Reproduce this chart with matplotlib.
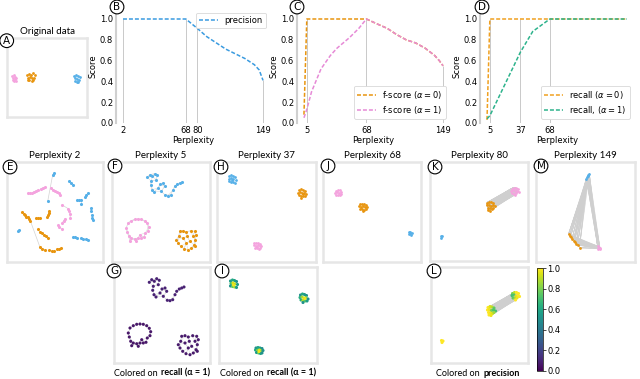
import numpy as np
import matplotlib.pyplot as plt
from matplotlib.collections import LineCollection
from matplotlib.offsetbox import TextArea, HPacker, AnnotationBbox
import matplotlib as mpl

plt.rcParams['font.family'] = ['DejaVu Sans']

# ---------------- score curves (top row) ----------------
prec_x = [2, 5, 10, 20, 37, 50, 68, 80, 90, 100, 110, 120, 130, 140, 145, 149]
prec_y = [1.0, 1.0, 1.0, 1.0, 1.0, 1.0, 1.0, 0.91, 0.83, 0.77, 0.71, 0.665, 0.62, 0.56, 0.51, 0.41]
f0_x = [2, 5, 20, 37, 50, 68, 80, 90, 100, 110, 120, 130, 140, 145, 149]
f0_y = [0.08, 1.0, 1.0, 1.0, 1.0, 1.0, 0.95, 0.91, 0.85, 0.80, 0.77, 0.72, 0.65, 0.60, 0.55]
f1_x = [2, 5, 10, 20, 30, 37, 50, 60, 68, 80, 90, 100, 110, 120, 130, 140, 145, 149]
f1_y = [0.05, 0.13, 0.30, 0.52, 0.65, 0.72, 0.82, 0.91, 1.0, 0.95, 0.91, 0.85, 0.80, 0.77, 0.72, 0.65, 0.60, 0.55]
r0_x = [2, 5, 37, 68, 80, 149]
r0_y = [0.03, 1.0, 1.0, 1.0, 1.0, 1.0]
r1_x = [2, 5, 37, 50, 68, 80, 149]
r1_y = [0.04, 0.07, 0.68, 0.88, 1.0, 1.0, 1.0]
b_ticks = [2, 68, 80, 149]
c_ticks = [5, 68, 149]
d_ticks = [5, 37, 68]

# ---------------- embeddings (local pixel coords inside each box) ----------------
orig_pink = [(5, 38), (6.5, 37), (8, 38.5), (6, 40), (7.5, 41), (9, 40), (5.5, 42), (7, 43), (8.5, 42.5)]
orig_orange = [(20, 37), (22, 35.5), (24, 36.5), (26, 35), (27.5, 37), (21, 39.5), (23, 38.5), (25, 40),
               (27, 39.5), (22, 42), (24.5, 43), (26, 42), (20.5, 41.5)]
orig_blue = [(67, 37.5), (69, 36.5), (71, 37.5), (72.5, 39), (68, 40), (70, 40.5), (72, 41.5), (67.5, 42.5),
             (69.5, 43.5), (71, 43.5)]

p2_blue = [(45.7, 12.7), (47.3, 11.3), (62.3, 19.3), (64, 21.3), (66, 23.3), (40.7, 39.3), (78, 35.3),
           (79.3, 33.3), (81, 31), (70.3, 38), (72.3, 38.3), (74.3, 38.3), (74.3, 41.7), (83.7, 46),
           (84.3, 49.3), (84.7, 52.7), (85.3, 56), (85.7, 58), (11.3, 69.3), (12, 68), (65.7, 75.3),
           (68, 75.3), (70, 75.7), (74, 76), (76.3, 76.7), (78.7, 77.3), (80.7, 78)]
p2_pink = [(20.7, 31.3), (23, 31.3), (25.3, 30.7), (27.3, 29.7), (29.3, 28.7), (31.3, 27.7), (33.7, 26.7),
           (35.7, 26), (38, 25.3), (43.7, 26), (45.7, 27.7), (48, 28.7), (49.7, 29.7), (52.3, 31),
           (53.3, 33.3), (54.7, 42.7), (61.3, 46.7), (62, 49.3), (63, 52), (63.3, 56), (58, 56.7),
           (56.7, 58.7), (55.3, 60.7), (50.7, 63.3), (52.3, 65), (54.7, 66.7)]
p2_orange = [(15.3, 50), (16.7, 52), (18, 53.3), (19.3, 54.7), (21, 55.3), (22.3, 56.7), (23.3, 58.7),
             (29, 56.3), (31.3, 56.3), (33.3, 56.3), (42.3, 49.3), (41.7, 51.3), (41, 53.3), (40.3, 55.3),
             (30.7, 67.3), (32.7, 69.7), (34.7, 71.3), (37, 72.7), (39.3, 74), (41.3, 75.7),
             (33, 85.3), (35.3, 86.7), (38, 87.7), (42.3, 88.3), (44.7, 88.7), (47, 88.7), (49.7, 87.3),
             (52, 86.7), (54, 86)]
p2_links = [(6, 20)]

p5_blue = [(35.3, 15.3), (37.7, 12.7), (40.3, 14.3), (42.7, 11.7), (45.3, 13.3), (39.3, 19.3), (38.7, 23.3),
           (40, 27.7), (42, 30), (46, 26), (48, 22), (51, 21), (52.7, 24.3), (49.3, 29.3), (53.3, 33.3),
           (56, 33.7), (58.7, 32.7), (61, 27.7), (62.7, 24.3), (65.3, 22), (67.7, 21), (70, 20), (44.3, 17.7)]
p5_pink = [(16, 61), (19.3, 58.7), (22.7, 57.3), (26, 57), (29.3, 57.3), (32.7, 58.7), (35.3, 61.3),
           (36.7, 64.7), (36, 68.7), (33.3, 71), (14.3, 66), (15.3, 70), (16.7, 74.3), (19.3, 76),
           (22.7, 76.7), (26, 76), (29.3, 76), (32, 75.3), (17.7, 78.7), (24.3, 79.3), (27.7, 72.7)]
p5_orange = [(67.7, 69.3), (71, 68.7), (74.3, 70), (78.7, 68.7), (82.7, 69.3), (84.3, 72.7), (83.3, 77.7),
             (82, 82.7), (79.3, 86), (76, 87.7), (72, 86.7), (68.7, 84.3), (66, 81), (64.3, 77.7),
             (66.7, 74.3), (71, 76), (75.3, 74.3), (77.7, 79.3), (74.3, 81), (81, 74.3), (83.3, 84.3)]
p5_recall = [0.09, 0.06, 0.07]  # blue, pink, orange

p37_blue = [(11.5, 14), (13.5, 13), (15.5, 13.5), (17.5, 14.5), (12, 16.5), (14, 16), (16, 17), (18.5, 17.5),
            (11.5, 19), (13.5, 19.5), (15.5, 20), (17.5, 20.5), (14.5, 18)]
p37_orange = [(81.5, 28), (83.5, 27), (85.5, 27.5), (87.5, 28.5), (81, 30.5), (83, 30), (85, 31), (87, 30.5),
              (89, 32), (82, 33), (84, 33.5), (86, 34), (88, 34), (84, 35.5), (86, 31.5)]
p37_pink = [(37, 81), (39, 80.5), (41, 81), (43, 81.5), (36.5, 83), (38.5, 83.5), (40.5, 83), (42.5, 84),
            (44, 83.5), (37.5, 85.5), (39.5, 86), (41.5, 86.5), (43, 86), (40, 84.5)]
p37_recall_blue = [0.55, 0.6, 0.58, 0.5, 0.7, 0.95, 0.9, 0.55, 0.5, 0.75, 0.85, 0.55, 0.98]
p37_recall_orange = [0.5, 0.6, 0.55, 0.5, 0.62, 0.85, 0.95, 0.8, 0.5, 0.6, 0.9, 0.75, 0.55, 0.5, 0.98]
p37_recall_pink = [0.5, 0.6, 0.55, 0.5, 0.6, 0.8, 0.95, 0.85, 0.5, 0.55, 0.75, 0.6, 0.5, 0.98]

p68_pink = [(12.5, 28.5), (14.5, 27.5), (16.5, 28), (18, 29.5), (12, 30.5), (14, 30), (16, 30.5), (17.5, 31.5),
            (13, 32.5), (15, 32.5), (16.5, 33)]
p68_orange = [(36.5, 42), (38.5, 41.5), (40.5, 41.5), (42.5, 42.5), (36, 44), (38, 44.5), (40, 44), (42, 45),
              (44, 44.5), (37, 46.5), (39, 47), (41, 47.5), (43, 47), (40, 49)]
p68_blue = [(86, 70), (87.5, 69.5), (89, 70.5), (86.5, 72), (88, 72.5), (87.5, 71)]

p80_orange = [(57, 40.5), (59, 39.5), (61, 40), (63, 41), (56.5, 43), (58.5, 42.5), (60.5, 43.5), (62.5, 43),
              (64.5, 44), (57.5, 45.5), (59.5, 46), (61.5, 46.5), (63, 45.5), (58, 48), (60, 48.5)]
p80_pink = [(81.5, 26.5), (83.5, 25.5), (85.5, 25.5), (87.5, 26.5), (81, 28.5), (83, 28), (85, 29), (87, 28.5),
            (88.5, 29.5), (82, 31), (84, 31.5), (86, 31), (84.5, 33)]
p80_blue = [(10.5, 73.5), (12, 74), (11, 75.5)]
p80_prec_orange = [1.0, 0.95, 0.9, 0.75, 1.0, 0.97, 0.8, 0.72, 0.7, 1.0, 0.98, 0.95, 0.85, 1.0, 0.97]
p80_prec_pink = [0.8, 0.9, 1.0, 1.0, 0.7, 0.72, 0.95, 1.0, 1.0, 0.75, 0.85, 0.97, 1.0]
p80_prec_blue = [1.0, 1.0, 1.0]

p149_blue = [(50.3, 16.7), (51.3, 15), (52.3, 13.3), (53.3, 11.7), (51.8, 14.2)]
p149_orange = [(32.5, 72), (33.5, 73.5), (34.5, 75), (36, 77), (37.5, 78.5), (38.5, 80), (40, 81.5),
               (41.5, 83), (43.5, 85.5)]
p149_pink = [(61.5, 84), (62.5, 85.5), (63.5, 87), (62, 86.5), (64, 86)]

BLUE = "#56b0e8"
ORANGE = "#e8950f"
PINK = "#f4a3de"
PINK_LINE = "#e68ad6"
GREEN = "#2db38c"
EDGE = "#d3d3d3"

W, H = 640, 379
fig = plt.figure(figsize=(6.4, 3.79), dpi=100)


def rect(x, y, w, h):
    return [x / W, 1 - (y + h) / H, w / W, h / H]


def tag(x, y, s):
    fig.text(x / W, 1 - y / H, s, ha="center", va="center", fontsize=7.5,
             bbox=dict(boxstyle="circle,pad=0.18", fc="white", ec="black", lw=0.8))


def score_axes(r, series, ticks, loc):
    ax = fig.add_axes(rect(*r))
    for xs, ys, color, label in series:
        ax.plot(xs, ys, ls="--", dashes=(2.6, 1.3), lw=1.1, color=color, label=label)
    for t in ticks:
        top = max(np.interp(t, xs, ys) for xs, ys, _, _ in series)
        ax.vlines(t, 0, top, color="#c9c9c9", lw=0.7, zorder=0)
    ax.set_xlim(-5.35, 156.35)
    ax.set_ylim(0, 1.1)
    ax.set_xticks(ticks)
    ax.set_yticks([0, 0.2, 0.4, 0.6, 0.8, 1.0])
    ax.tick_params(length=0, labelsize=6, pad=2)
    for side in ["top", "right", "bottom"]:
        ax.spines[side].set_visible(False)
    ax.spines["left"].set_color("#d0d0d0")
    ax.spines["left"].set_linewidth(1.5)
    ax.set_xlabel("Perplexity", fontsize=6, labelpad=1)
    ax.set_ylabel("Score", fontsize=6, labelpad=2)
    leg = ax.legend(loc=loc, fontsize=6, handlelength=2.2, borderpad=0.4, labelspacing=0.3,
                    fancybox=True, framealpha=1)
    leg.get_frame().set_edgecolor("#d8d8d8")
    leg.get_frame().set_linewidth(0.6)
    return ax


def box_axes(r, title=None):
    ax = fig.add_axes(rect(*r))
    ax.set_xlim(0, r[2])
    ax.set_ylim(r[3], 0)
    ax.set_xticks([])
    ax.set_yticks([])
    for s in ax.spines.values():
        s.set_color("#e6e6e6")
        s.set_linewidth(1.8)
    if title:
        ax.set_title(title, fontsize=7, pad=3, family=["Lato", "DejaVu Sans"])
    return ax


def knn_segments(pts, k=2):
    p = np.asarray(pts)
    d = np.hypot(p[:, None, 0] - p[None, :, 0], p[:, None, 1] - p[None, :, 1])
    segs = []
    for i in range(len(p)):
        for j in np.argsort(d[i])[1:k + 1]:
            segs.append([p[i], p[j]])
    return segs


def band(a, b):
    return [[p, q] for p in a for q in b]


def dots(ax, pts, color, s=5, cmap=None):
    p = np.asarray(pts)
    ax.scatter(p[:, 0], p[:, 1], s=s, c=color, cmap=cmap, vmin=0, vmax=1, lw=0, zorder=3)


# ---------------- top row ----------------
ax = box_axes((7, 38, 80, 79), "Original data")
dots(ax, orig_pink, PINK, 4)
dots(ax, orig_orange, ORANGE, 4)
dots(ax, orig_blue, BLUE, 4)

score_axes((116, 8.6, 154, 114.4), [(prec_x, prec_y, "#3a9be0", "precision")], b_ticks, "upper right")
score_axes((297, 8.6, 153, 114.4),
           [(f0_x, f0_y, ORANGE, r"f-score ($\alpha = 0$)"), (f1_x, f1_y, PINK_LINE, r"f-score ($\alpha = 1$)")],
           c_ticks, "lower right")
score_axes((480, 8.6, 154, 114.4),
           [(r0_x, r0_y, "#f0a020", r"recall ($\alpha = 0$)"), (r1_x, r1_y, GREEN, r"recall, ($\alpha = 1$)")],
           d_ticks, "lower right")

# ---------------- embeddings ----------------
ax = box_axes((7, 162, 96, 100), "Perplexity 2")
segs = []
for c in (p2_blue, p2_pink, p2_orange):
    segs += knn_segments(c, 1)
segs += [[p2_orange[i], p2_orange[j]] for i, j in p2_links]
ax.add_collection(LineCollection(segs, colors=EDGE, lw=0.5, zorder=1))
dots(ax, p2_blue, BLUE)
dots(ax, p2_pink, PINK)
dots(ax, p2_orange, ORANGE)

for r, title, colored in [((112, 162, 98, 100), "Perplexity 5", False), ((114, 267, 96, 96), None, True)]:
    ax = box_axes(r, title)
    segs = []
    for c in (p5_blue, p5_pink, p5_orange):
        segs += knn_segments(c, 3)
    ax.add_collection(LineCollection(segs, colors="#dcdcdc", lw=0.4, zorder=1))
    clusters = [p5_blue, p5_pink, p5_orange]
    for c, col, rv in zip(clusters, [BLUE, PINK, ORANGE], p5_recall):
        if colored:
            dots(ax, c, [rv] * len(c), 5, "viridis")
        else:
            dots(ax, c, col, 5)

ax = box_axes((217, 162, 99, 100), "Perplexity 37")
dots(ax, p37_blue, BLUE, 4)
dots(ax, p37_orange, ORANGE, 4)
dots(ax, p37_pink, PINK, 4)
ax = box_axes((219, 267, 98, 96))
dots(ax, p37_blue, p37_recall_blue, 5, "viridis")
dots(ax, p37_orange, p37_recall_orange, 5, "viridis")
dots(ax, p37_pink, p37_recall_pink, 5, "viridis")

ax = box_axes((323, 162, 98, 100), "Perplexity 68")
dots(ax, p68_pink, PINK, 4)
dots(ax, p68_orange, ORANGE, 4)
dots(ax, p68_blue, BLUE, 4)

ax = box_axes((430, 162, 98, 99), "Perplexity 80")
ax.add_collection(LineCollection(band(p80_orange, p80_pink), colors="#cfcfcf", lw=0.5, zorder=1))
dots(ax, p80_orange, ORANGE, 4)
dots(ax, p80_pink, PINK, 4)
dots(ax, p80_blue, BLUE, 4)
ax = box_axes((431, 267, 97, 96))
ax.add_collection(LineCollection(band(p80_orange, p80_pink), colors="#cfcfcf", lw=0.5, zorder=1))
dots(ax, p80_orange, p80_prec_orange, 5, "viridis")
dots(ax, p80_pink, p80_prec_pink, 5, "viridis")
dots(ax, p80_blue, p80_prec_blue, 5, "viridis")

ax = box_axes((536, 162, 99, 100), "Perplexity 149")
segs = band(p149_blue, p149_orange) + band(p149_orange, p149_pink) + band(p149_blue, p149_pink)
ax.add_collection(LineCollection(segs, colors="#cfcfcf", lw=0.4, zorder=1))
dots(ax, p149_blue, BLUE, 4)
dots(ax, p149_orange, ORANGE, 4)
dots(ax, p149_pink, PINK, 4)

# colorbar
cax = fig.add_axes(rect(537, 268, 6, 103))
cb = fig.colorbar(mpl.cm.ScalarMappable(norm=mpl.colors.Normalize(0, 1), cmap="viridis"), cax=cax)
cb.set_ticks([0, 0.2, 0.4, 0.6, 0.8, 1.0])
cb.ax.tick_params(labelsize=6, length=2, width=0.5, pad=1)
cb.outline.set_linewidth(0.5)

# captions
for cx, bold in [(162, "recall (α = 1)"), (268, "recall (α = 1)"), (478, "precision")]:
    fam = ["Lato", "DejaVu Sans"]
    t1 = TextArea("Colored on", textprops=dict(fontsize=6.5, family=fam))
    t2 = TextArea(bold, textprops=dict(fontsize=6.5, family=fam, weight="bold"))
    pack = HPacker(children=[t1, t2], align="baseline", pad=0, sep=2.5)
    fig.add_artist(AnnotationBbox(pack, (cx / W, 1 - 373 / H), xycoords="figure fraction",
                                  frameon=False, box_alignment=(0.5, 0.5)))

# panel tags
for x, y, s in [(6.7, 40.7, "A"), (117, 7, "B"), (297, 7, "C"), (482, 7, "D"), (10, 167, "E"),
                (115, 166, "F"), (114, 271, "G"), (221, 167, "H"), (222, 271, "I"), (328, 166, "J"),
                (435, 167, "K"), (434, 271, "L"), (541, 166, "M")]:
    tag(x, y, s)

fig.savefig("out.png", dpi=100)
